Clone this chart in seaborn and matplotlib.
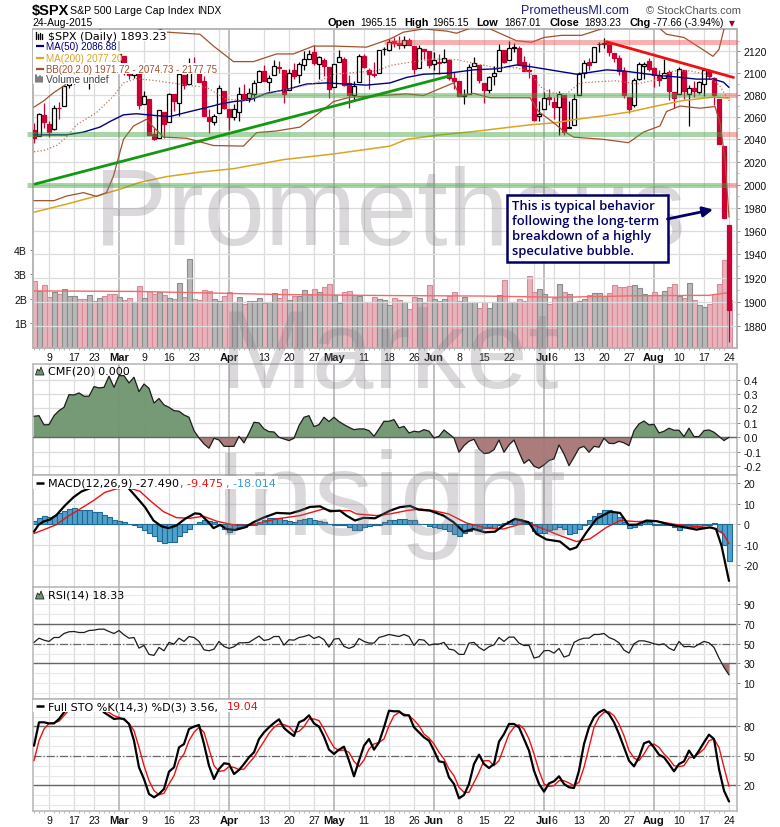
#!/usr/bin/env python3
"""S&P 500 daily chart with volume, CMF, MACD, RSI and stochastics panels"""

import matplotlib
matplotlib.use('Agg')
import matplotlib.pyplot as plt
from matplotlib.patches import Rectangle, Polygon
from matplotlib.ticker import NullFormatter
import numpy as np
import pandas as pd
import seaborn as sns

opens = [2048.38,2043.13,2062.28,2053.47,2049.38,2068.55,2069.98,2088.78,2096.47,2099.16,2099.25,2097.65,2109.83,2109.10,2115.30,2113.91,2110.88,
 2105.23,2115.76,2107.72,2098.54,2100.91,2072.25,2076.14,2044.69,2041.10,2064.56,2055.35,2080.59,2072.84,2098.69,2090.32,2107.99,2103.94,2093.10,2059.94,2055.78,2064.11,2084.05,
 2067.63,2060.03,2064.87,2080.79,2076.94,2081.29,2091.51,2102.03,2092.28,2097.82,2105.96,2102.58,2084.11,2102.82,2098.27,2107.21,2112.80,2119.29,2108.35,2112.49,2105.52,
 2087.38,2110.23,2112.63,2091.26,2079.96,2092.13,2115.56,2102.87,2099.62,2100.43,2122.07,2121.30,2129.45,2127.79,2125.55,2130.36,2125.34,2105.13,2122.27,2120.66,
 2108.64,2110.41,2110.64,2112.35,2095.09,2092.34,2079.07,2081.12,2106.24,2107.43,2091.34,2084.26,2097.40,2101.58,2121.06,2112.50,2123.16,2123.65,2109.96,2102.62,2098.63,2061.19,
 2067.00,2078.03,2073.95,2069.52,2080.04,2049.73,2052.74,2080.03,2099.72,2109.79,2110.55,2126.80,2126.85,2127.55,2118.21,2114.16,2102.24,2078.19,2070.75,2094.70,2106.78,2111.60,
 2104.49,2097.68,2095.27,2100.75,2082.61,2080.98,2102.66,2081.10,2086.19,2083.15,2089.70,2101.99,2095.69,2076.61,2034.08,1965.15]
highs = [2054.74,2063.55,2072.40,2056.16,2070.86,2073.48,2088.53,2097.03,2101.30,2100.23,2102.13,2110.61,2110.05,2117.94,2119.59,2113.91,2112.74,
 2117.52,2115.76,2107.72,2104.25,2100.91,2083.49,2076.14,2050.08,2066.41,2064.56,2081.41,2080.59,2106.85,2098.69,2113.92,2114.86,2107.63,2097.43,2067.15,2062.83,2088.97,2084.05,
 2067.63,2072.17,2086.99,2089.81,2086.69,2093.31,2102.61,2107.65,2098.62,2111.91,2111.30,2102.58,2103.94,2109.64,2109.98,2120.49,2120.92,2125.92,2116.04,2113.65,2105.52,
 2108.41,2120.95,2115.24,2098.42,2092.90,2117.66,2117.69,2105.06,2110.19,2121.45,2123.89,2131.78,2133.02,2134.72,2134.28,2132.15,2125.34,2126.22,2122.27,2120.66,
 2119.15,2117.59,2121.92,2112.89,2100.99,2093.01,2085.62,2108.50,2115.02,2107.43,2091.34,2097.40,2106.79,2126.65,2121.64,2129.87,2128.03,2125.10,2116.04,2108.92,2098.63,2074.28,
 2082.78,2085.06,2078.61,2083.74,2080.04,2074.28,2081.31,2100.67,2111.98,2114.14,2124.42,2128.91,2132.82,2128.49,2118.51,2116.87,2106.01,2078.19,2095.60,2110.60,2110.48,2114.24,
 2105.70,2102.51,2112.66,2103.32,2082.61,2105.35,2102.66,2089.06,2092.93,2092.45,2102.87,2103.47,2096.17,2076.61,2034.08,1965.15]
lows = [2036.72,2043.13,2049.97,2041.88,2048.62,2057.99,2069.98,2086.70,2089.80,2092.15,2090.79,2085.44,2103.00,2105.87,2109.89,2103.76,2103.75,
 2104.50,2098.26,2094.49,2095.22,2067.27,2072.21,2044.16,2039.69,2041.10,2041.17,2055.35,2065.08,2061.23,2085.56,2090.32,2104.42,2091.50,2061.05,2045.50,2052.96,2064.11,2067.04,
 2048.38,2057.32,2056.52,2076.10,2073.30,2074.29,2091.51,2092.33,2083.24,2097.82,2100.02,2072.37,2084.11,2094.38,2091.05,2103.19,2112.80,2107.04,2094.89,2097.41,2077.59,
 2087.38,2110.23,2088.46,2067.93,2074.99,2092.13,2104.58,2085.57,2096.04,2100.43,2116.81,2120.01,2124.50,2122.59,2122.95,2126.06,2099.18,2105.13,2112.86,2104.89,
 2102.54,2099.14,2109.61,2093.23,2085.67,2079.11,2072.14,2081.12,2106.24,2091.33,2072.49,2082.10,2088.86,2101.58,2109.45,2112.50,2119.89,2108.58,2101.78,2095.38,2056.64,2056.32,
 2067.00,2071.02,2058.40,2044.02,2044.02,2049.73,2052.74,2080.03,2095.43,2102.49,2110.55,2119.88,2123.66,2115.40,2110.00,2098.63,2077.09,2063.52,2069.09,2094.08,2094.97,2102.07,
 2087.31,2088.60,2095.27,2075.53,2067.91,2080.98,2076.49,2052.09,2078.26,2080.61,2079.30,2094.14,2070.53,2035.73,1970.89,1867.01]
closes = [2041.51,2062.52,2055.47,2046.74,2068.59,2068.53,2088.48,2096.99,2100.34,2099.68,2097.45,2110.30,2109.66,2115.48,2113.86,2110.74,2104.50,
 2117.39,2107.78,2098.53,2101.04,2071.26,2079.43,2044.16,2040.24,2065.95,2053.40,2081.19,2074.28,2099.50,2089.27,2108.10,2104.42,2091.50,2061.05,2056.15,2061.02,2086.24,2067.89,
 2059.69,2066.96,2080.62,2076.33,2081.90,2091.18,2102.06,2092.43,2095.84,2106.63,2104.99,2081.18,2100.40,2097.29,2107.96,2112.93,2117.69,2108.92,2114.76,2106.85,2085.51,
 2108.29,2114.49,2089.46,2080.15,2088.00,2116.10,2105.33,2099.12,2098.48,2121.10,2122.73,2129.20,2127.83,2125.85,2130.82,2126.06,2104.20,2123.48,2120.79,2107.39,
 2111.73,2109.60,2114.07,2095.84,2092.83,2079.28,2080.15,2105.20,2108.86,2094.11,2084.43,2096.29,2100.44,2121.24,2109.99,2122.85,2124.20,2108.58,2102.31,2101.49,2057.64,2063.11,
 2077.42,2076.78,2068.76,2081.34,2046.68,2051.31,2076.62,2099.60,2108.95,2107.40,2124.29,2126.64,2128.28,2119.21,2114.15,2102.15,2079.65,2067.64,2093.25,2108.57,2108.63,2103.84,
 2098.04,2093.32,2099.84,2083.56,2077.57,2104.18,2084.07,2086.05,2083.39,2091.54,2102.44,2096.92,2079.61,2035.73,1970.89,1893.23]
volume_b = [2.73,2.31,2.57,2.08,2.29,2.2,2.42,2.12,2.12,2,2,2.16,1.92,2.04,2.12,2.22,2.22,2.08,1.96,2.04,1.88,2.53,2.04,2.33,2.22,2.29,2.18,2.04,2,2.65,2.08,3.63,2,1.96,2.37,2.33,2,1.92,2.12,2.29,
 1.88,2.08,1.8,1.92,1.92,2.04,1.84,1.88,2.24,2.04,2.41,1.96,2.12,2.12,2.37,2.2,2.41,2.29,2.49,2.61,2.18,1.84,2.29,2.33,2.18,2.12,1.88,1.88,2.08,2,1.96,1.76,
 2.04,1.96,1.88,1.59,2.08,2.04,1.84,2.57,2,1.92,2,2.12,2.29,1.92,2.08,1.88,1.88,1.63,1.88,1.63,1.88,2.16,2.78,1.88,1.88,2,1.92,2.94,2.29,2.41,2.2,1.8,2.04,2.61,2.29,2.2,1.88,1.92,2,2.16,2.24,2.24,2.12,2.24,2.57,2.49,2.49,2.53,
 2.57,2.45,2.2,2.16,2.29,2.16,2.33,2.49,2.61,2.12,2.04,2.65,1.96,1.76,1.67,1.8,2.2,2.61,3.59,1.95]
vol_ma_x = [0,20,50,71,90,105,120,135,139]
vol_ma = [2.33,2.31,2.18,2.14,2.12,2.07,2.13,2.15,2.26]

ma50_x = [0,6.5,9.9,13.2,15.2,17.9,20.5,23.9,27.2,31.2,34.5,37.2,39.9,43.2,46.5,50.5,54.5,58.5,62.5,66.5,71.2,74.5,77.9,83,87.9,92.5,96.5,99.2,103.2,108.5,111.2,114.5,117.9,121.2,124.5,128.5,132.5,135.8,137.9,139]
ma50 = [2044,2044,2046.5,2051,2056,2062,2063,2061.5,2060.5,2065,2068.6,2071.7,2074,2075.5,2081.5,2085,2090,2091,2090,2089,2091,2096,2099,2100,2103,2104,2107.5,2106,2103,2099,2100.7,2103,2102,2100,2098,2096.5,2094.5,2094.5,2091.7,2086.88]
ma200_x = [0,6.5,12.5,17.2,21.2,26.5,33.2,39.9,49.9,59.9,71.2,74.5,81.2,87.9,94.5,99.2,104.5,108.5,114.5,119.2,124.5,129.9,135.8,139]
ma200 = [1976,1983,1990,1996,2002,2007,2011,2014,2022,2027,2034,2040,2044,2047,2050.5,2053,2055,2058,2061.5,2064.7,2070,2075,2078,2077.2]
bb_up_x = [0,1.9,3.9,6.2,13.5,19,24,26.5,33.2,35.9,39.9,43.9,48.5,51.9,55.9,59.9,66.5,71.2,73.9,77.9,82.5,84.5,87.2,91.2,96.5,99.5,102,105.5,109.5,113.5,115,124.5,126.5,130,133,135.8,137,138,139]
bb_up = [2069,2074.5,2082,2089,2142,2150,2143,2138,2136,2125,2110.6,2110.6,2117.7,2117.7,2125,2125,2124,2131.6,2138,2141,2139,2137,2141.6,2141,2130,2128.5,2133,2135,2135,2141,2144,2144,2136,2133,2124,2115.5,2122,2141,2177.75]
bb_mid_x = [0,1.9,4.5,6.5,8.5,12.5,15.9,17.9,20.5,24.5,30.5,34.5,38.5,42.5,46.5,50.5,56.5,59.9,65.2,68.5,71.2,75.2,79.9,84.5,88.5,92.5,96.5,99.2,101.2,103.2,106.5,109.2,112.5,116.5,120.5,124.5,127.9,131.2,134.5,137.2,139]
bb_mid = [2029,2030,2034.5,2042,2053,2064,2079,2091,2095,2093,2089,2087,2076,2075,2081,2085,2091,2099,2101,2102,2107,2110,2113,2112.5,2108.5,2105,2105,2100.7,2088,2082,2081,2091,2092,2093,2090,2094,2102,2102,2099,2088,2074.73]
bb_low_x = [0,4,6.5,9.9,12.5,14.5,15.9,16.9,17.9,19.9,22.5,23.9,25.9,30.5,35.9,41.9,44.5,48.5,53.2,56.5,59.9,63.2,71.2,74.5,77.9,80.5,83.9,85.2,87.9,91.2,99.2,100.9,103.9,105.9,107.9,113.9,118.9,121.9,125.2,126.5,129.2,133.2,136.2,137.2,138.2,139]
bb_low = [1986,1986,1990,1993,1989.7,1993,2007.6,2024,2040,2052,2058,2051,2042,2041,2034.5,2034,2046,2047.5,2051,2062,2074,2078,2080,2081,2079.5,2084.5,2091,2079,2081.5,2077.5,2077.5,2065,2055,2047.5,2042,2040,2037,2046.5,2052,2065,2070,2068,2069.5,2055,2022,1971.72]

green_trend_x = [0.2,83.2]
green_trend = [2000.5,2097.5]
red_trend_x = [114.5,139.9]
red_trend = [2129,2096]

cmf = [.146,.150,.086,.088,.150,.185,.208,.296,.294,.308,.285,.285,.352,.343,.347,.424,.347,.428,.428,.377,.417,.317,.370,.340,.238,.269,.225,.208,.185,.181,.155,.139,.046,-.005,-.046,-.076,-.007,-.019,-.063,-.063,-.063,.007,-.039,.030,.104,.100,.058,.039,.037,0,-.012,-.023,-.007,.081,.139,.150,.074,.088,.139,.109,.139,.109,.088,.069,.053,.058,.058,.046,.007,.058,.111,.111,
 .123,.065,.076,.030,.042,.037,.053,.042,-.005,.007,.051,.023,-.005,-.104,-.058,-.028,-.014,-.081,-.113,-.109,-.086,-.019,-.104,-.053,-.019,-.104,-.181,-.155,-.201,-.215,-.192,-.162,-.150,-.053,-.116,-.197,-.139,-.076,-.063,-.104,-.063,-.069,-.007,-.042,-.044,-.028,-.039,-.058,.046,.093,.113,.086,.090,.030,.042,.063,.049,.049,.005,.063,.005,.005,.046,.051,.035,.007,-.023,0]

macd_x = [0,.9,1.9,3.2,4.5,6.2,7.9,9.5,11.2,14.5,17.2,18.9,20.5,22.2,23.9,25.5,26.9,28.5,30.2,32.2,33.2,34.9,35.9,37.2,38.5,40.2,42.2,43.9,45.9,48.5,51.2,53.2,55.2,57.2,59.2,61.2,62.5,64.2,65.9,68.2,71.2,73.2,75.2,76.9,79.2,81.9,83.9,85.9,87.9,90.2,92.2,93.9,96.2,98.9,100.5,102.5,105.2,107.2,108.5,110.5,112.5,115.2,117.2,118.9,120.5,122.5,124.5,127.2,129.2,132.5,135.2,136.4,137.5,139]
macd = [-3.6,-.3,1.3,2.3,4.5,9.1,13.1,15.9,17.5,20,19.6,17.5,13.1,8.3,1.8,-1,-1.9,-.6,2.6,5.3,5,1,-1.9,-.3,-2.3,-2.8,-1.5,1,3.2,5.5,5.2,6.6,8.4,8.7,6.3,6.6,4.2,1.8,3.1,2.9,6.6,8.3,8.9,7.1,6.6,4.2,1,-3.6,-2.3,-3.9,-3.6,-.6,2.6,1,-4.7,-7.4,-8.4,-12.3,-11.2,-3.9,2.6,6.1,5.5,-.3,-.2,1.8,1.5,-.2,-1.1,-2.6,-1.5,-2.3,-10.4,-27.49]
signal_x = [0,1.9,4.5,6.5,9.2,11.9,14.2,16.5,18.9,21.2,23.2,25.9,28.5,31.2,33.9,36.5,39.9,42.2,44.5,48.5,53.2,57.9,59.9,63.2,64.5,68.5,71.2,74.5,77.2,79.9,82.9,86.5,90.5,93.9,97.9,98.9,101.9,105.2,108.5,111.2,114.5,117.2,120.5,124.5,128.5,132.5,135.8,137.9,139]
signal = [-4.5,-2.7,-.2,3.4,7.4,11.5,15.5,17.2,17.7,16,11.5,6.1,3.2,2.9,3.9,1.5,-.3,-.6,.2,2.6,4.2,7.4,6.6,6.6,5,4.2,5,6.6,7.4,6.6,5,.6,-1.9,-2.3,.5,.6,-2.3,-5.5,-8.4,-7.1,-1.5,1.8,1.3,1.5,-.2,-1.1,-1.8,-4.7,-9.475]
macd_hist = [1.5,3.1,3.9,3.4,4.2,5.5,6.6,7.4,7.8,7.1,7,7,6.1,5.8,4.7,3.4,2.3,1.8,1,.3,-.6,-1.5,-2.6,-4.4,-5.5,-7.9,-9.2,-8.4,-8.4,-5.8,-3.9,-2.3,.1,1,1.9,1.8,1,-.2,-2.3,-3.6,-2.3,-1.5,-1.5,-.6,-.2,1,2.3,2.9,3.2,3.1,2.3,1.8,1.3,2.1,2.4,2.9,2.3,1.8,1,0,-.5,-.3,-.3,-1.5,-2.8,-2.6,-1.5,-1,-.6,-.2,1,1.9,
 2.3,2.4,2.4,2.3,1.9,.2,0,-.8,-1.5,-1.8,-2.3,-3.2,-4.7,-5.5,-4.2,-3.1,-2.3,-2.3,-1.9,-1.5,-1.8,-.6,.6,1.8,2.7,2.6,1,1,-3.1,-4.4,-4.2,-2.6,-2.3,-1.5,-2.3,-4.7,-4.2,-2.3,-.2,2.3,3.9,5.5,7,7,5.8,3.7,1,-1.8,-1.5,-.2,1,1,-.2,-.2,-.6,-.6,-1.5,-2.8,-1.1,-1.5,-1.5,-1.5,-.6,-.2,.5,-3.1,-10,-18.014]

rsi = [51.4,55.7,53.7,52.4,56.4,56.4,60.5,62.2,62.5,61.5,61.5,63.5,63.9,64.9,64.9,62.5,60.5,63.5,59.1,55.7,56.4,45.6,48.3,39.2,38.2,46.3,42.9,51.4,49.7,55.7,52.4,57.4,56.4,52.4,43.9,42.9,44.6,52.4,47.3,45.3,47,51,51,51.4,54.7,57.8,53.4,54.4,57.4,57.4,48.6,54.1,53.7,56.4,57.4,59.1,55.4,57.4,54.1,46.6,54.7,55.4,47.3,45.3,47.3,55.4,52.4,50.7,50.7,56.4,57.8,59.5,
 58.4,57.4,59.5,57.4,48.3,54.4,53.7,48.6,49.7,49.7,51.4,44.6,43.6,39.2,39.2,50.7,51.4,46.3,43.2,47,49,56.4,52.4,56.8,56.8,50.7,48.3,48.3,35.5,36.8,42.9,43.2,40.5,45.3,36.5,38.2,51.4,54.1,55.7,55.7,59.5,59.5,60.5,56.4,54.4,51,43.6,40.5,50,53,53,51.7,50,49,50,45.6,43.2,52.4,47,47.3,46.6,49.7,52.4,51,46.3,35.5,26,18.33]
sto_k = [60.3,84.1,84.1,83,83,87.5,94.2,99.3,100,100,100,100,100,100,94.2,90.8,87.5,88.1,87.5,82.4,65.4,38.3,26.4,11.2,7.8,11.2,16.3,33.9,38.3,58.6,62,77.3,79.7,81.4,62,40,26.4,36.6,42.4,41.7,31.5,35.6,41.7,48.5,53.6,67.1,73.9,79,83.4,87.1,78.3,73.9,70.2,84.1,86.4,91.2,83,79.7,69.5,56.3,51.9,56.3,59.3,45.1,29.2,45.1,60.3,67.1,56.3,63.7,79,95.9,
 95.3,95.3,91.2,91.2,79,73.9,68.8,65.4,55.3,44.4,43.4,28.1,21.4,6.8,10.2,21.4,41.7,51.2,41.7,37.6,41.7,64.4,72.2,82.4,82.4,79,67.1,55.3,34.9,21.4,13.6,22,24.1,29.2,21.4,18,17.3,34.9,62,79,89.2,94.2,96.9,92.5,84.1,72.2,58.6,45.1,39.3,48.5,62.7,64.7,58.6,51.2,48.5,41.7,34.2,41.7,44.4,55.3,47.8,55.3,63.7,71.5,67.1,36.6,14.6,3.56]
sto_d = [45.1,65.4,77.3,83,83.7,85.1,90.8,96.6,100,100,100,100,100,100,96,94.2,90.8,89.2,86.4,83,75.6,58.6,40,24.7,14.6,10.5,11.9,21.4,29.8,45.1,51.9,65.4,73.9,79,73.9,56.9,40,34.2,34.9,39,38.3,35.9,36.6,42.7,48.5,56.9,64.7,72.9,79,82.4,81.7,79.7,73.9,74.9,79.7,87.5,87.5,85.8,77.3,67.1,58.6,55.3,55.9,53.6,44.4,39,45.8,56.9,62,63.7,67.1,80.7,
 90.8,94.2,92.5,90.8,86.4,80.7,72.2,68.1,62,53.6,46.8,36.6,29.8,18,12.9,12.9,23.1,33.2,45.1,45.1,40,45.1,58.6,72.2,79,81.7,77.3,67.1,51.9,34.9,21.4,19,19.7,24.7,24.7,22.4,19.7,23.1,38.3,58.6,79,89.2,94.2,94.9,90.8,82.4,70.5,55.3,47.8,45.1,51.9,60.3,62,58.6,51.9,46.8,40,39,40,47.8,49.2,52.5,56.9,65.4,67.1,58.6,38.3,19.04]

week_pos = [3,8,12,22,27,32,46,51,56,66,71,76,85,90,95,104,109,114,119,129,134,139]
week_lab = ['9','17','23','9','16','23','13','20','27','11','18','26','8','15','22','6','13','20','27','10','17','24']
month_pos = [17,39,60,80,102,124]
month_lab = ['Mar','Apr','May','Jun','Jul','Aug']
extra_grid = [37,100]
price_ticks = [1880,1900,1920,1940,1960,1980,2000,2020,2040,2060,2080,2100,2120]
vol_ticks = [1,2,3,4]
cmf_ticks = [-0.2,-0.1,0.0,0.1,0.2,0.3,0.4]
macd_ticks = [-20,-10,0,10,20]
rsi_ticks = [10,30,50,70,90]
sto_ticks = [20,50,80]

W, H = 780, 828
LEFT, RIGHT = 32.5, 736.7
XLIM = (-0.3, 140.54)
CRIMSON = '#cc0033'
FRAME = '#b4b4b4'
GRID = '#dcdcdc'

sns.set_theme(style='white')
plt.rcParams['font.family'] = ['Liberation Sans', 'DejaVu Sans']
plt.rcParams['axes.unicode_minus'] = False

fig = plt.figure(figsize=(W / 100, H / 100), dpi=100, facecolor='white')
idx = np.arange(140)


def panel(top, bottom, zorder=1):
    ax = fig.add_axes([LEFT / W, 1 - bottom / H, (RIGHT - LEFT) / W, (bottom - top) / H], zorder=zorder)
    ax.set_xlim(*XLIM)
    for s in ax.spines.values():
        s.set_color(FRAME)
        s.set_linewidth(1.1)
    return ax


def vgrid(ax):
    for p in week_pos + extra_grid:
        ax.axvline(p, color=GRID, lw=0.9, zorder=0.5)
    for p in month_pos:
        ax.axvline(p, color=FRAME, lw=1.2, zorder=0.6)


def date_axis(ax):
    ax.set_xticks(week_pos + month_pos, week_lab + month_lab)
    for lab in ax.get_xticklabels():
        if lab.get_text() in month_lab:
            lab.set_fontweight('bold')
            lab.set_fontsize(8)
    ax.tick_params(axis='x', which='major', length=0, labelsize=7.6, pad=3, labelcolor='#111111', bottom=True)
    ax.set_xticks(idx, minor=True)
    ax.tick_params(axis='x', which='minor', length=1.5, width=0.6, color='#aaaaaa', bottom=True)
    for lab in ax.get_xticklabels():
        if lab.get_text() in month_lab:
            lab.set_fontsize(8)


def finish(ax, ticks, labels, ylim, dates=False, minor=None):
    ax.set_xlim(*XLIM)
    ax.set_ylim(*ylim)
    ax.set_xlabel('')
    ax.set_ylabel('')
    ax.yaxis.tick_right()
    ax.set_yticks(ticks, labels)
    ax.yaxis.set_minor_formatter(NullFormatter())
    ax.set_yticks(minor if minor else [], minor=True)
    ax.tick_params(axis='y', which='major', length=2.5, width=0.7, color='#888888', labelsize=7.6, pad=2.5, labelcolor='#111111')
    ax.tick_params(axis='y', which='minor', length=1.5, width=0.6, color='#aaaaaa')
    if dates:
        date_axis(ax)
    else:
        ax.set_xticks([])


def line(ax, x, y, color, lw, ls='-', z=4):
    sns.lineplot(x=x, y=y, ax=ax, color=color, linewidth=lw, linestyle=ls, estimator=None, errorbar=None, zorder=z)


# volume layer sits under the price layer
ax_vol = panel(29.5, 349, zorder=1)
vgrid(ax_vol)
vol_df = pd.DataFrame({'i': idx, 'v': volume_b, 'c': closes})
vol_df['kind'] = np.where(vol_df['c'].diff().fillna(-1) < 0, 'down', 'up')
sns.barplot(data=vol_df, x='i', y='v', hue='kind', hue_order=['down', 'up'], dodge=False, ax=ax_vol, native_scale=True,
            width=1.0, palette={'down': '#e8b4bc', 'up': '#b8b8b8'}, saturation=1, linewidth=0.8, errorbar=None,
            legend=False, zorder=2)
for bar in ax_vol.patches:
    face = bar.get_facecolor()
    bar.set_edgecolor('#d88a98' if face[0] > 0.8 else '#8c8c8c')
line(ax_vol, vol_ma_x, vol_ma, '#f06a6a', 1.0)
ax_vol.set_xlim(*XLIM)
ax_vol.set_ylim(0, 13.04)
ax_vol.set_xlabel('')
ax_vol.set_ylabel('')
ax_vol.set_yticks(vol_ticks, [f'{v}B' for v in vol_ticks])
ax_vol.tick_params(axis='y', length=2.5, width=0.7, color='#888888', labelsize=7.6, pad=1.5, left=True, labelcolor='#111111')
date_axis(ax_vol)

# price layer
ax = panel(29.5, 349, zorder=2)
ax.patch.set_visible(False)
ax.set_yscale('log')
for p in price_ticks:
    ax.axhline(p, color=GRID, lw=0.9, zorder=0.5)

for i in range(140):
    o, h, l, c = opens[i], highs[i], lows[i], closes[i]
    prev = closes[i - 1] if i else o + 1
    if c >= o:
        face, edge, wick = 'white', 'black', 'black'
    elif c < prev:
        face, edge, wick = CRIMSON, CRIMSON, CRIMSON
    else:
        face, edge, wick = 'black', 'black', 'black'
    ax.vlines(i, l, h, color=wick, lw=0.9, zorder=2.5)
    ax.bar(i, abs(c - o), bottom=min(o, c), width=0.72, color=face, edgecolor=edge, linewidth=0.9, zorder=3)

line(ax, ma50_x, ma50, '#000080', 1.0)
line(ax, ma200_x, ma200, '#daa520', 1.1)
line(ax, bb_up_x, bb_up, '#a0522d', 0.9)
line(ax, bb_low_x, bb_low, '#a0522d', 0.9)
line(ax, bb_mid_x, bb_mid, '#b8785a', 0.9, ls=':')

# support and resistance bands run a little past the left edge
for lvl, x0, x1, col in [(2044.6, -1.4, 137.5, '#3fa63f'), (2044.6, 137.5, 140.5, '#f05050'),
                         (2000, -1.4, 138.5, '#3fa63f'), (2000, 138.5, 140.5, '#f05050'),
                         (2079.8, 42.7, 137.5, '#3fa63f'), (2079.8, 137.5, 140.5, '#f05050'),
                         (2128.5, 70, 140.5, '#f05050')]:
    ax.plot([x0, x1], [lvl, lvl], color=col, lw=3.6, alpha=0.45, solid_capstyle='butt', clip_on=False, zorder=5)
line(ax, green_trend_x, green_trend, '#119911', 2.0, z=6)
line(ax, red_trend_x, red_trend, '#ee1111', 2.0, z=6)
finish(ax, price_ticks, [str(p) for p in price_ticks], (1862, 2141.4), minor=[p + 10 for p in price_ticks])
ax.set_xticks([])

# CMF
ax_cmf = panel(364.7, 476)
vgrid(ax_cmf)
for t in cmf_ticks:
    ax_cmf.axhline(t, color=GRID, lw=0.9, zorder=0.5)
ax_cmf.fill_between(idx, cmf, 0, where=np.array(cmf) >= 0, interpolate=True, color='#6f946f', alpha=0.95, lw=0, zorder=2)
ax_cmf.fill_between(idx, cmf, 0, where=np.array(cmf) <= 0, interpolate=True, color='#a67575', alpha=0.95, lw=0, zorder=2)
ax_cmf.axhline(0, color='#666666', lw=1.0, zorder=3)
line(ax_cmf, idx, cmf, '#1c1c1c', 0.9)
finish(ax_cmf, cmf_ticks, [f'{t:.1f}' for t in cmf_ticks], (-0.262, 0.511))

# MACD
ax_macd = panel(476, 588.7)
vgrid(ax_macd)
for t in macd_ticks:
    ax_macd.axhline(t, color=GRID, lw=0.9, zorder=0.5)
sns.barplot(x=idx, y=macd_hist, ax=ax_macd, native_scale=True, width=1.0, color='#4fa0cc', saturation=1,
            edgecolor='#1f6a94', linewidth=0.8, errorbar=None, zorder=2)
line(ax_macd, signal_x, signal, '#ee1111', 1.0)
line(ax_macd, macd_x, macd, '#000000', 1.6, z=5)
finish(ax_macd, macd_ticks, [str(t) for t in macd_ticks], (-30.8, 23.9))

# RSI
ax_rsi = panel(588.3, 700)
vgrid(ax_rsi)
for t in range(0, 101, 10):
    ax_rsi.axhline(t, color='#e8e8e8', lw=0.8, zorder=0.5)
ax_rsi.axhline(70, color='#666666', lw=1.0, zorder=2)
ax_rsi.axhline(30, color='#666666', lw=1.0, zorder=2)
ax_rsi.axhline(50, color='#666666', lw=0.9, ls='-.', zorder=2)
ax_rsi.fill_between(idx, rsi, 30, where=np.array(rsi) <= 30, interpolate=True, color='#a67575', lw=0, zorder=3)
line(ax_rsi, idx, rsi, '#1c1c1c', 0.9)
finish(ax_rsi, rsi_ticks, [str(t) for t in rsi_ticks], (-6.2, 107.5))

# Stochastics
ax_sto = panel(700, 812)
vgrid(ax_sto)
for t in range(0, 101, 10):
    ax_sto.axhline(t, color='#e8e8e8', lw=0.8, zorder=0.5)
ax_sto.axhline(80, color='#666666', lw=1.0, zorder=2)
ax_sto.axhline(20, color='#666666', lw=1.0, zorder=2)
ax_sto.axhline(50, color='#666666', lw=0.9, ls='-.', zorder=2)
line(ax_sto, idx, sto_d, '#ee1111', 1.0)
line(ax_sto, idx, sto_k, '#000000', 1.6, z=5)
finish(ax_sto, sto_ticks, [str(t) for t in sto_ticks], (-6.1, 107.8), dates=True)

# overlay in pixel coordinates for titles, legends and the watermark
ov = fig.add_axes([0, 0, 1, 1], zorder=20)
ov.set_xlim(0, W)
ov.set_ylim(H, 0)
ov.axis('off')

for word, base, size in [('Prometheus', 245, 79), ('Market', 388, 80), ('Insight', 535, 86)]:
    ov.text(390, base, word, fontsize=size, color='#857f88', alpha=0.3, ha='center', va='baseline', zorder=1)

for x0, y0, w, h in [(33, 30.5, 134, 11.5), (33, 42, 85, 11), (33, 53, 87, 11), (33, 64, 181, 11), (33, 75, 77, 10),
                     (33, 477, 245, 13), (33, 701, 228, 12)]:
    ov.add_patch(Rectangle((x0, y0), w, h, fc='white', ec='none', zorder=2))

VERD = ['DejaVu Sans']
def label(x, y, s, color='black', size=8, family=None, weight='normal'):
    ov.text(x, y, s, fontsize=size, color=color, ha='left', va='center', fontweight=weight, zorder=6,
            family=family if family else ['Liberation Sans', 'DejaVu Sans'])

label(32, 10.5, '$SPX', size=10.5, weight='bold')
label(70, 10.5, 'S&P 500 Large Cap Index', size=7.7)
label(197.5, 10.5, 'INDX', size=7.3)
label(32, 23.5, '24-Aug-2015', size=7.5)
for x, s in [(328, 'Open'), (404.7, 'High'), (476.7, 'Low'), (549, 'Close'), (629, 'Chg')]:
    label(x, 23.5, s, size=7.8, weight='bold')
for x, s in [(360.7, '1965.15'), (432.7, '1965.15'), (504, '1867.01'), (584.7, '1893.23'), (653, '-77.66 (-3.94%)')]:
    label(x, 23.5, s, size=7.3)
ov.text(731.7, 23.5, '\u25bc', fontsize=5.5, color='#990033', ha='center', va='center', family=VERD)
label(520.5, 10.5, 'PrometheusMI.com', color='#1f1f80', size=9)
label(646.5, 10.5, '\u00a9 StockCharts.com', color='#555555', size=7.9)

# main legend
label(48, 36.7, '$SPX (Daily) 1893.23', size=8, family=VERD)
label(46, 47.3, 'MA(50) 2086.88', color='#000080', size=7.1)
label(46, 58.7, 'MA(200) 2077.20', color='#daa520', size=7.1)
label(46, 69.7, 'BB(20,2.0) 1971.72 - 2074.73 - 2177.75', color='#a0522d', size=7.0)
label(46, 79.7, 'Volume undef', color='#444444', size=7.4)
for y, col in [(47.3, '#000080'), (58.7, '#daa520'), (69.7, '#a0522d')]:
    ov.plot([35.5, 44], [y, y], color=col, lw=1.6, solid_capstyle='butt', zorder=6)
for i, dx in enumerate([36, 38, 40, 42]):
    top = [75.5, 78, 76.5, 78][i]
    ov.plot([dx, dx], [top, 83], color='#666666', lw=1.2, zorder=6)
    ov.plot([dx, dx], [top - 43, 40], color='black', lw=1.0, zorder=6)

# panel legends
def mountain(yb):
    ov.add_patch(Polygon([(35.5, yb), (37.5, yb - 6), (39.5, yb - 4), (41, yb - 8), (44, yb)], fc='#6f946f', ec='#222222', lw=0.6, zorder=6))

mountain(376)
label(48, 371.7, 'CMF(20) 0.000', size=8, family=VERD)
ov.plot([35.5, 44], [483.7, 483.7], color='black', lw=1.8, solid_capstyle='butt', zorder=6)
label(47.7, 483.7, 'MACD(12,26,9) -27.490', size=8, family=VERD)
label(180, 483.7, ', -9.475', color='#ee1111', size=8, family=VERD)
label(225.7, 483.7, ', -18.014', color='#3399cc', size=8, family=VERD)
mountain(600)
label(47.5, 595.7, 'RSI(14) 18.33', size=8, family=VERD)
ov.plot([35.5, 44], [707.3, 707.3], color='black', lw=1.8, solid_capstyle='butt', zorder=6)
label(47.5, 707.3, 'Full STO %K(14,3) %D(3) 3.56,', size=8, family=VERD)
label(227.3, 707.3, '19.04', color='#ee1111', size=8, family=VERD)

# commentary box
ov.add_patch(Rectangle((507, 196), 160.5, 67, fc='white', ec='#000066', lw=1.8, zorder=7))
for y, s in [(206.7, 'This is typical behavior'), (221.7, 'following the long-term'),
             (236.7, 'breakdown of a highly'), (251.7, 'speculative bubble.')]:
    ov.text(511.5, y, s, fontsize=9.4, color='#000066', ha='left', va='center', fontweight='semibold',
            family=['Open Sans', 'DejaVu Sans'], zorder=8)
ov.annotate('', xy=(713, 210.5), xytext=(667.5, 220),
            arrowprops=dict(arrowstyle='-|>', color='#000066', lw=2, mutation_scale=15, shrinkA=0, shrinkB=0), zorder=8)

fig.savefig('out.png', dpi=100)
plt.close(fig)
